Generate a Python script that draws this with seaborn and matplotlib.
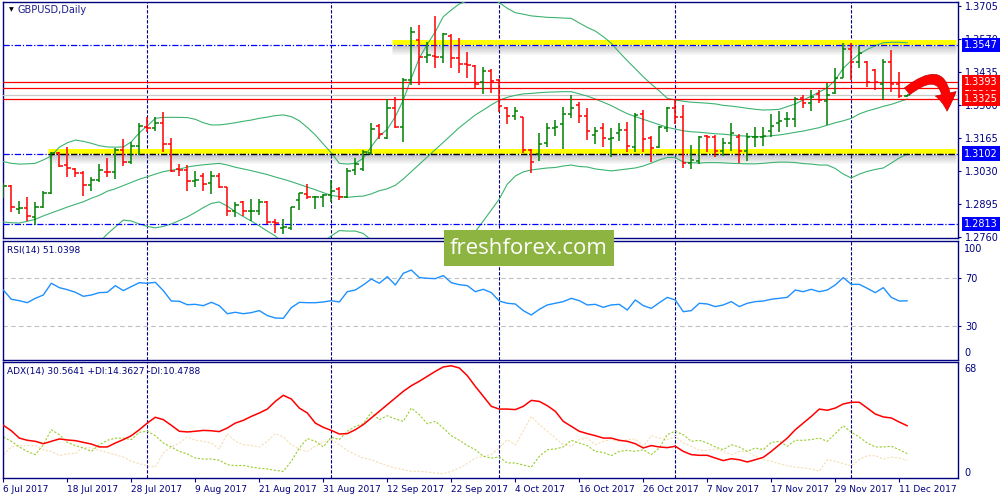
import numpy as np
import pandas as pd
import seaborn as sns
import matplotlib
matplotlib.use("Agg")
import matplotlib.pyplot as plt
from matplotlib import transforms
from matplotlib.patches import Rectangle

# ---- data --------------------------------------------------------------
start_date = "2017-07-06"

open_ = [1.2926, 1.2970, 1.2875, 1.2878, 1.2844, 1.2882, 1.2939, 1.3103, 1.3055, 1.3039,
         1.3024, 1.2973, 1.2994, 1.3028, 1.3025, 1.3117, 1.3066, 1.3134, 1.3212, 1.3208,
         1.3226, 1.3141, 1.3039, 1.3035, 1.2990, 1.3011, 1.2980, 1.3011, 1.2964, 1.2868,
         1.2905, 1.2867, 1.2868, 1.2905, 1.2823, 1.2799, 1.2799, 1.2912, 1.2937, 1.2924,
         1.2926, 1.2932, 1.2956, 1.2926, 1.3035, 1.3038, 1.3105, 1.3215, 1.3167, 1.3287,
         1.3209, 1.3403, 1.3566, 1.3496, 1.3501, 1.3498, 1.3583, 1.3492, 1.3468, 1.3460,
         1.3396, 1.3441, 1.3403, 1.3288, 1.3256, 1.3250, 1.3117, 1.3100, 1.3146, 1.3205,
         1.3223, 1.3264, 1.3301, 1.3256, 1.3178, 1.3208, 1.3160, 1.3185, 1.3198, 1.3130,
         1.3264, 1.3164, 1.3128, 1.3205, 1.3287, 1.3250, 1.3062, 1.3071, 1.3174, 1.3168,
         1.3114, 1.3146, 1.3168, 1.3114, 1.3168, 1.3171, 1.3195, 1.3226, 1.3242, 1.3242,
         1.3328, 1.3308, 1.3346, 1.3318, 1.3348, 1.3412, 1.3528, 1.3478, 1.3478, 1.3444,
         1.3386, 1.3478, 1.3386, 1.3336]
high = [1.2983, 1.2973, 1.2908, 1.2926, 1.2905, 1.2950, 1.3110, 1.3110, 1.3130, 1.3042,
        1.3032, 1.3005, 1.3059, 1.3083, 1.3123, 1.3160, 1.3150, 1.3228, 1.3250, 1.3253,
        1.3271, 1.3167, 1.3059, 1.3055, 1.3032, 1.3021, 1.3031, 1.3021, 1.2966, 1.2905,
        1.2909, 1.2916, 1.2915, 1.2908, 1.2833, 1.2833, 1.2885, 1.2942, 1.2977, 1.2928,
        1.2937, 1.2994, 1.2964, 1.3042, 1.3083, 1.3117, 1.3226, 1.3223, 1.3325, 1.3335,
        1.3410, 1.3621, 1.3628, 1.3559, 1.3665, 1.3594, 1.3590, 1.3573, 1.3519, 1.3464,
        1.3457, 1.3447, 1.3406, 1.3291, 1.3292, 1.3253, 1.3119, 1.3187, 1.3228, 1.3239,
        1.3294, 1.3341, 1.3314, 1.3287, 1.3212, 1.3228, 1.3205, 1.3228, 1.3232, 1.3269,
        1.3280, 1.3174, 1.3215, 1.3291, 1.3325, 1.3301, 1.3137, 1.3174, 1.3178, 1.3178,
        1.3164, 1.3228, 1.3182, 1.3187, 1.3212, 1.3212, 1.3264, 1.3277, 1.3273, 1.3332,
        1.3341, 1.3362, 1.3362, 1.3389, 1.3451, 1.3553, 1.3555, 1.3542, 1.3482, 1.3447,
        1.3487, 1.3526, 1.3437, 1.3343]
low = [1.2919, 1.2864, 1.2854, 1.2827, 1.2809, 1.2878, 1.2937, 1.3046, 1.3005, 1.3007,
       1.2930, 1.2950, 1.2987, 1.3005, 1.2998, 1.3052, 1.3059, 1.3096, 1.3191, 1.3195,
       1.3110, 1.3028, 1.3010, 1.2949, 1.2966, 1.2950, 1.2937, 1.2960, 1.2847, 1.2841,
       1.2847, 1.2827, 1.2851, 1.2814, 1.2776, 1.2772, 1.2789, 1.2871, 1.2915, 1.2875,
       1.2885, 1.2905, 1.2912, 1.2921, 1.3014, 1.3032, 1.3096, 1.3160, 1.3160, 1.3205,
       1.3150, 1.3382, 1.3382, 1.3471, 1.3453, 1.3471, 1.3451, 1.3433, 1.3410, 1.3365,
       1.3346, 1.3351, 1.3272, 1.3221, 1.3239, 1.3106, 1.3024, 1.3073, 1.3130, 1.3174,
       1.3119, 1.3246, 1.3226, 1.3157, 1.3141, 1.3130, 1.3087, 1.3155, 1.3110, 1.3110,
       1.3110, 1.3069, 1.3123, 1.3191, 1.3223, 1.3042, 1.3038, 1.3059, 1.3110, 1.3087,
       1.3092, 1.3114, 1.3062, 1.3073, 1.3128, 1.3133, 1.3168, 1.3191, 1.3209, 1.3209,
       1.3287, 1.3277, 1.3310, 1.3219, 1.3346, 1.3410, 1.3403, 1.3451, 1.3373, 1.3362,
       1.3321, 1.3355, 1.3328, 1.3334]
close = [1.2969, 1.2885, 1.2879, 1.2847, 1.2882, 1.2942, 1.3103, 1.3052, 1.3042, 1.3021,
         1.2973, 1.2994, 1.3035, 1.3025, 1.3117, 1.3066, 1.3134, 1.3215, 1.3208, 1.3228,
         1.3141, 1.3032, 1.3035, 1.2991, 1.2994, 1.2977, 1.3011, 1.2964, 1.2868, 1.2892,
         1.2868, 1.2869, 1.2905, 1.2823, 1.2819, 1.2803, 1.2882, 1.2939, 1.2926, 1.2926,
         1.2932, 1.2950, 1.2926, 1.3032, 1.3059, 1.3110, 1.3201, 1.3182, 1.3287, 1.3209,
         1.3403, 1.3600, 1.3496, 1.3505, 1.3496, 1.3590, 1.3492, 1.3468, 1.3464, 1.3386,
         1.3441, 1.3400, 1.3296, 1.3256, 1.3276, 1.3117, 1.3066, 1.3141, 1.3205, 1.3209,
         1.3264, 1.3287, 1.3256, 1.3194, 1.3194, 1.3164, 1.3164, 1.3198, 1.3133, 1.3260,
         1.3162, 1.3123, 1.3209, 1.3287, 1.3250, 1.3062, 1.3076, 1.3171, 1.3168, 1.3112,
         1.3144, 1.3187, 1.3114, 1.3171, 1.3171, 1.3174, 1.3215, 1.3236, 1.3244, 1.3324,
         1.3308, 1.3335, 1.3321, 1.3341, 1.3410, 1.3528, 1.3478, 1.3514, 1.3396, 1.3396,
         1.3478, 1.3386, 1.3337, 1.3341]

bb_upper = [1.3069, 1.3062, 1.3059, 1.3060, 1.3062, 1.3076, 1.3092, 1.3128, 1.3146, 1.3157,
            1.3152, 1.3144, 1.3134, 1.3129, 1.3128, 1.3129, 1.3150, 1.3187, 1.3215, 1.3246,
            1.3250, 1.3250, 1.3250, 1.3249, 1.3242, 1.3228, 1.3219, 1.3219, 1.3223, 1.3228,
            1.3234, 1.3239, 1.3246, 1.3251, 1.3257, 1.3260, 1.3253, 1.3236, 1.3209, 1.3178,
            1.3141, 1.3105, 1.3062, 1.3059, 1.3062, 1.3083, 1.3130, 1.3174, 1.3201, 1.3253,
            1.3321, 1.3410, 1.3492, 1.3549, 1.3600, 1.3662, 1.3689, 1.3714, 1.3726, 1.3742,
            1.3746, 1.3738, 1.3719, 1.3696, 1.3678, 1.3672, 1.3665, 1.3662, 1.3659, 1.3658,
            1.3656, 1.3655, 1.3636, 1.3618, 1.3603, 1.3580, 1.3553, 1.3516, 1.3482, 1.3449,
            1.3416, 1.3386, 1.3358, 1.3328, 1.3321, 1.3316, 1.3312, 1.3310, 1.3308, 1.3305,
            1.3299, 1.3296, 1.3292, 1.3287, 1.3283, 1.3280, 1.3281, 1.3283, 1.3294, 1.3305,
            1.3321, 1.3337, 1.3354, 1.3371, 1.3403, 1.3451, 1.3482, 1.3509, 1.3528, 1.3543,
            1.3555, 1.3557, 1.3557, 1.3555]
bb_middle = [1.2822, 1.2819, 1.2818, 1.2825, 1.2833, 1.2847, 1.2859, 1.2871, 1.2883, 1.2894,
             1.2905, 1.2919, 1.2931, 1.2948, 1.2958, 1.2971, 1.2984, 1.2997, 1.3007, 1.3018,
             1.3028, 1.3034, 1.3038, 1.3047, 1.3052, 1.3056, 1.3059, 1.3062, 1.3055, 1.3046,
             1.3039, 1.3032, 1.3024, 1.3016, 1.3006, 1.2997, 1.2987, 1.2976, 1.2965, 1.2954,
             1.2942, 1.2931, 1.2926, 1.2923, 1.2926, 1.2928, 1.2937, 1.2950, 1.2958, 1.2972,
             1.2998, 1.3028, 1.3058, 1.3088, 1.3118, 1.3148, 1.3178, 1.3208, 1.3234, 1.3260,
             1.3280, 1.3301, 1.3320, 1.3332, 1.3340, 1.3346, 1.3348, 1.3351, 1.3353, 1.3354,
             1.3355, 1.3355, 1.3346, 1.3337, 1.3325, 1.3312, 1.3298, 1.3281, 1.3265, 1.3253,
             1.3242, 1.3231, 1.3220, 1.3209, 1.3202, 1.3195, 1.3191, 1.3189, 1.3186, 1.3183,
             1.3181, 1.3178, 1.3175, 1.3173, 1.3171, 1.3171, 1.3175, 1.3178, 1.3183, 1.3189,
             1.3194, 1.3201, 1.3208, 1.3218, 1.3228, 1.3236, 1.3246, 1.3264, 1.3276, 1.3285,
             1.3295, 1.3303, 1.3314, 1.3325]
bb_lower = [1.2575, 1.2577, 1.2577, 1.2589, 1.2604, 1.2618, 1.2626, 1.2615, 1.2620, 1.2631,
            1.2658, 1.2694, 1.2740, 1.2773, 1.2802, 1.2830, 1.2826, 1.2814, 1.2804, 1.2798,
            1.2804, 1.2814, 1.2828, 1.2843, 1.2861, 1.2881, 1.2898, 1.2904, 1.2887, 1.2864,
            1.2844, 1.2826, 1.2806, 1.2785, 1.2765, 1.2734, 1.2721, 1.2716, 1.2721, 1.2730,
            1.2743, 1.2765, 1.2787, 1.2785, 1.2785, 1.2775, 1.2748, 1.2726, 1.2716, 1.2691,
            1.2675, 1.2646, 1.2626, 1.2627, 1.2635, 1.2634, 1.2667, 1.2702, 1.2736, 1.2783,
            1.2826, 1.2871, 1.2916, 1.2977, 1.3010, 1.3027, 1.3035, 1.3039, 1.3043, 1.3045,
            1.3051, 1.3055, 1.3049, 1.3047, 1.3039, 1.3035, 1.3031, 1.3035, 1.3039, 1.3043,
            1.3051, 1.3063, 1.3076, 1.3086, 1.3086, 1.3067, 1.3065, 1.3063, 1.3065, 1.3065,
            1.3064, 1.3062, 1.3061, 1.3060, 1.3060, 1.3062, 1.3065, 1.3067, 1.3067, 1.3065,
            1.3061, 1.3059, 1.3055, 1.3055, 1.3041, 1.3018, 1.3002, 1.3018, 1.3029, 1.3037,
            1.3043, 1.3063, 1.3084, 1.3100]

rsi = [60.1, 52.3, 51.1, 49.4, 53.1, 55.9, 65.8, 62.1, 60.4, 58.2,
       54.8, 55.9, 57.9, 58.2, 63.8, 59.6, 63.0, 66.3, 65.8, 66.6,
       59.6, 50.8, 50.6, 47.7, 48.0, 46.9, 49.7, 46.9, 40.1, 41.3,
       40.1, 41.0, 42.7, 38.5, 36.5, 36.2, 45.2, 49.7, 49.4, 49.4,
       50.0, 51.1, 50.0, 58.7, 60.1, 64.4, 69.4, 65.8, 71.4, 64.4,
       74.2, 77.0, 70.6, 70.0, 69.7, 72.3, 66.3, 64.6, 63.8, 58.7,
       60.7, 57.9, 50.8, 48.9, 48.3, 42.7, 39.0, 43.8, 47.5, 48.9,
       50.3, 53.1, 51.1, 47.5, 48.0, 45.5, 47.5, 48.0, 43.2, 51.7,
       46.9, 44.6, 49.4, 53.9, 51.7, 41.8, 42.7, 48.9, 48.3, 46.1,
       47.5, 50.3, 46.1, 48.9, 50.3, 50.8, 52.3, 53.1, 53.9, 60.1,
       58.7, 60.7, 58.7, 60.1, 64.4, 70.6, 64.9, 64.9, 61.5, 57.9,
       62.1, 53.9, 50.8, 51.0]

adx = [30.9, 27.7, 23.4, 22.1, 21.5, 20.1, 21.5, 22.9, 22.3, 21.9,
       20.9, 19.9, 18.2, 18.2, 20.5, 22.5, 24.8, 28.3, 32.2, 35.6,
       34.2, 30.9, 27.4, 27.0, 27.4, 27.9, 27.7, 27.2, 29.3, 32.2,
       33.8, 36.1, 38.1, 40.4, 44.9, 48.5, 46.3, 41.0, 38.1, 32.2,
       29.7, 27.9, 25.8, 26.0, 28.3, 31.3, 35.2, 39.1, 43.0, 46.9,
       50.8, 54.1, 56.7, 59.6, 62.5, 65.1, 65.8, 64.5, 60.0, 53.7,
       47.9, 42.0, 40.4, 40.4, 40.1, 42.0, 45.5, 44.9, 42.4, 39.1,
       33.2, 30.3, 27.4, 26.0, 24.8, 23.4, 23.4, 22.1, 21.5, 20.1,
       17.6, 19.0, 18.2, 17.8, 18.6, 15.6, 13.7, 13.3, 13.3, 11.7,
       10.2, 11.3, 10.7, 9.4, 10.7, 12.1, 15.6, 19.5, 23.4, 28.3,
       32.2, 36.1, 40.4, 39.7, 41.0, 43.4, 44.4, 44.4, 41.0, 37.5,
       35.8, 35.2, 32.8, 30.6]
plus_di = [24.0, 21.5, 18.2, 15.6, 13.7, 19.5, 28.3, 25.4, 20.9, 19.0,
           17.6, 15.6, 19.5, 22.1, 23.3, 23.4, 22.5, 26.8, 27.4, 24.8,
           20.5, 18.2, 15.6, 14.1, 11.7, 11.1, 11.1, 10.4, 7.8, 7.2,
           7.4, 6.4, 5.7, 5.3, 4.5, 3.9, 9.8, 17.6, 23.1, 21.5,
           18.2, 24.0, 22.5, 27.4, 30.3, 31.8, 38.5, 34.2, 36.5, 34.6,
           33.2, 41.0, 37.1, 31.8, 33.2, 29.3, 24.8, 22.1, 19.0, 16.6,
           12.7, 11.7, 12.3, 8.8, 8.8, 7.6, 6.4, 12.7, 16.6, 17.0,
           18.2, 22.1, 20.5, 19.0, 15.6, 15.0, 13.1, 15.6, 16.2, 15.6,
           16.6, 13.7, 17.6, 25.4, 27.4, 25.4, 21.5, 22.1, 20.5, 18.2,
           16.6, 19.5, 18.2, 15.6, 17.6, 16.6, 20.9, 21.5, 18.6, 22.1,
           22.1, 22.5, 23.4, 21.5, 26.0, 30.7, 26.8, 24.0, 20.5, 18.2,
           18.2, 18.6, 16.6, 14.3]
minus_di = [13.7, 18.2, 19.0, 19.0, 19.0, 16.6, 15.6, 13.1, 14.3, 14.3,
            18.2, 17.6, 16.2, 15.0, 13.7, 12.3, 9.8, 8.4, 7.2, 6.4,
            14.7, 18.2, 20.5, 24.0, 22.1, 21.5, 20.5, 17.0, 26.0, 21.5,
            19.5, 19.0, 18.2, 21.5, 26.0, 24.0, 19.5, 17.0, 15.6, 18.6,
            20.9, 22.5, 19.5, 16.2, 13.7, 11.7, 10.7, 8.8, 7.2, 5.9,
            4.9, 3.9, 3.9, 3.5, 2.9, 2.5, 3.9, 5.9, 8.4, 11.7,
            12.7, 13.7, 17.6, 22.5, 19.5, 27.4, 36.1, 31.3, 27.4, 23.4,
            19.5, 18.6, 22.5, 23.4, 19.5, 21.5, 22.5, 21.5, 22.5, 22.9,
            18.6, 24.8, 23.4, 22.5, 24.4, 20.5, 18.6, 16.2, 16.2, 17.0,
            15.6, 13.7, 15.6, 15.6, 12.7, 10.7, 9.8, 8.4, 7.2, 6.4,
            5.9, 5.3, 3.9, 10.7, 9.8, 8.4, 7.2, 10.7, 13.1, 13.1,
            11.1, 12.3, 11.7, 10.4]

blue_levels = [1.3547, 1.3102, 1.2813]
red_levels = [1.3393, 1.3372, 1.3325]
zone_levels = [1.3547, 1.3102]
zone_start_bar = [48.6, 5.6]
price_ticks = [1.3705, 1.3570, 1.3435, 1.3300, 1.3165, 1.3030, 1.2895, 1.2760]

chart_title = "GBPUSD,Daily"
rsi_title = "RSI(14) 51.0398"
adx_title = "ADX(14) 30.5641 +DI:14.3627 -DI:10.4788"
watermark = "freshforex.com"

# ---- drawing ------------------------------------------------------------
sns.set_style("white")
plt.rcParams["font.family"] = ["DejaVu Sans"]

navy = "#000080"
n = len(close)
x = np.arange(n)
o, h, l, c = map(np.array, (open_, high, low, close))
dates = pd.bdate_range(start_date, periods=n)
month_starts = [i for i in range(1, n) if dates[i].month != dates[i - 1].month]
x_right = 119.34

fig = plt.figure(figsize=(10, 5), dpi=100)
ax1 = fig.add_axes([0.003, 0.524, 0.955, 0.472])
ax2 = fig.add_axes([0.003, 0.280, 0.955, 0.238])
ax3 = fig.add_axes([0.003, 0.044, 0.955, 0.232])

for ax in (ax1, ax2, ax3):
    for m in month_starts:
        ax.axvline(m, color=navy, lw=0.8, ls=(0, (3, 1.5)), zorder=1)
    for s in ax.spines.values():
        s.set_color(navy)
        s.set_linewidth(1.0)
    ax.tick_params(axis="y", left=False, labelleft=False, right=True, labelright=True,
                   length=2.2, pad=3, color=navy, labelcolor=navy, labelsize=7)
    ax.yaxis.set_ticks_position("right")

# main price panel
for band in (bb_upper, bb_middle, bb_lower):
    sns.lineplot(x=x, y=band, ax=ax1, color="#3cb371", lw=0.8, legend=False, zorder=3)

up_shift = transforms.offset_copy(ax1.transData, fig=fig, y=2.5, units="dots")
for lvl, x0 in zip(zone_levels, zone_start_bar):
    for k in range(9):
        tr = transforms.offset_copy(ax1.transData, fig=fig, y=-1 - k, units="dots")
        ax1.hlines(lvl, x0, x_right - 0.3, colors="#505050", alpha=0.3 * (1 - k / 9),
                   lw=0.75, transform=tr, zorder=2)
    ax1.hlines(lvl, x0, x_right - 0.3, colors="#ffff00", lw=3.6, transform=up_shift, zorder=2.5)

dashdot = (0, (5, 1.5, 1, 1.5))
for lvl in blue_levels:
    ax1.axhline(lvl, color="#0000ff", lw=0.9, ls=dashdot, zorder=3)
ax1.hlines(zone_levels[1], zone_start_bar[1], x_right - 0.3, colors="black", lw=0.9,
           linestyles=[dashdot], zorder=3.1)
ax1.axhline(c[-1], color="#c8c8c8", lw=0.9, zorder=2.6)
for lvl in red_levels:
    ax1.axhline(lvl, color="#ff0000", lw=0.9, zorder=3)

col = np.where(c >= o, "#008000", "#ff0000")
ax1.vlines(x, l, h, colors=col, lw=1.1, zorder=4)
ax1.hlines(o, x - 0.4, x, colors=col, lw=1.1, zorder=4)
ax1.hlines(c, x, x + 0.4, colors=col, lw=1.1, zorder=4)

ax1.set_xlim(-0.04, x_right)
ax1.set_ylim(1.27566, 1.37218)
ax1.set_yticks(price_ticks)
ax1.set_yticklabels([f"{v:.4f}" for v in price_ticks])
ax1.set_xticks([])
ax1.set_xlabel("")
ax1.set_ylabel("")

blend = transforms.blended_transform_factory(ax1.transAxes, ax1.transData)


def price_box(lvl, fc):
    ax1.text(1.0062, lvl, f"{lvl:.4f}", transform=blend, ha="left", va="center",
             fontsize=7, color="white", clip_on=False, zorder=6,
             bbox=dict(boxstyle="square,pad=0.22", fc=fc, ec="none"))


for lvl in blue_levels:
    price_box(lvl, "#0000ff")
price_box(red_levels[1], "#ff0000")
price_box(red_levels[0], "#ff0000")
price_box(red_levels[2], "#ff0000")

ax1.text(0.0063, 0.966, "\u25bc", transform=ax1.transAxes, fontsize=4.5, color="black",
         va="center", ha="left")
ax1.text(0.0157, 0.966, chart_title, transform=ax1.transAxes, fontsize=7, color="#1c1c8c",
         va="center", ha="left")

ax1.annotate("", xy=(947, 386), xytext=(905, 407), xycoords="figure pixels",
             textcoords="figure pixels", annotation_clip=False, zorder=7,
             arrowprops=dict(arrowstyle="simple,head_length=0.9,head_width=1.1,tail_width=0.45",
                             connectionstyle="arc3,rad=-1.1", fc="#ff0000", ec="#b00000",
                             lw=0.4, mutation_scale=14))

# RSI panel
ax2.axhline(70, color="#c0c0c0", lw=0.8, ls=(0, (4, 3)), zorder=1)
ax2.axhline(30, color="#c0c0c0", lw=0.8, ls=(0, (4, 3)), zorder=1)
sns.lineplot(x=x, y=rsi, ax=ax2, color="#1e90ff", lw=1.0, legend=False, zorder=3)
ax2.set_xlim(-0.04, x_right)
ax2.set_ylim(1.0, 101.5)
ax2.set_yticks([70, 30])
ax2.set_yticklabels(["70", "30"])
ax2.set_xticks([])
ax2.set_xlabel("")
ax2.set_ylabel("")
ax2.text(1.0062, 0.933, "100", transform=ax2.transAxes, fontsize=7, color=navy, va="center")
ax2.text(1.0062, 0.059, "0", transform=ax2.transAxes, fontsize=7, color=navy, va="center")
ax2.text(0.0045, 0.916, rsi_title, transform=ax2.transAxes, fontsize=6.5, color=navy,
         va="center", ha="left")

# ADX panel
sns.lineplot(x=x, y=minus_di, ax=ax3, color="#f5deb3", lw=0.8, linestyle=(0, (2, 1.5)),
             legend=False, zorder=2)
sns.lineplot(x=x, y=plus_di, ax=ax3, color="#9acd32", lw=0.8, linestyle=(0, (2, 1.5)),
             legend=False, zorder=2.5)
sns.lineplot(x=x, y=adx, ax=ax3, color="#ff0000", lw=1.1, legend=False, zorder=3)
ax3.set_xlim(-0.04, x_right)
ax3.set_ylim(0, 68)
ax3.set_yticks([])
ax3.set_xlabel("")
ax3.set_ylabel("")
ax3.text(1.0062, 0.94, "68", transform=ax3.transAxes, fontsize=7, color=navy, va="center")
ax3.text(1.0062, 0.043, "0", transform=ax3.transAxes, fontsize=7, color=navy, va="center")
ax3.text(0.0045, 0.914, adx_title, transform=ax3.transAxes, fontsize=6.5, color=navy,
         va="center", ha="left")

tick_idx = list(range(0, n, 8))
ax3.set_xticks(tick_idx)
ax3.set_xticklabels([f"{dates[i].day} {dates[i]:%b %Y}" for i in tick_idx])
ax3.tick_params(axis="x", bottom=True, labelbottom=True, length=3, color=navy,
                labelcolor=navy, labelsize=6.5, pad=2)
for lab in ax3.get_xticklabels():
    lab.set_ha("left")

# watermark
fig.add_artist(Rectangle((0.444, 0.468), 0.170, 0.072, transform=fig.transFigure,
                         fc="#8db441", ec="none", zorder=20))
fig.text(0.529, 0.503, watermark, ha="center", va="center", fontsize=16, color="white",
         family="Open Sans", zorder=21)

fig.savefig("out.png", dpi=100)
